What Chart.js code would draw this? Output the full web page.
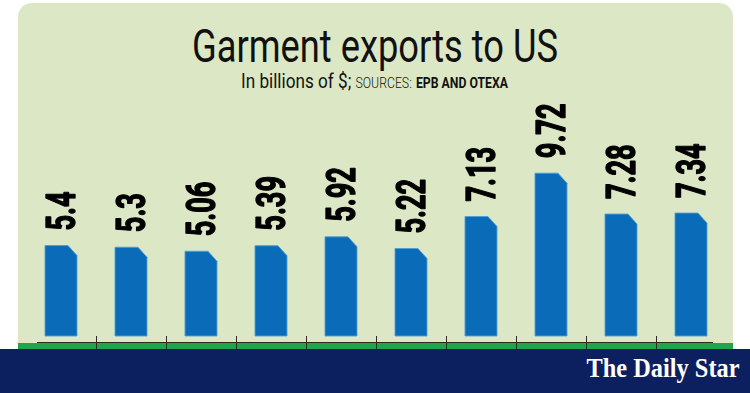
<!DOCTYPE html>
<html>
<head>
<meta charset="utf-8">
<script src="https://cdn.jsdelivr.net/npm/chart.js@4.4.1/dist/chart.umd.min.js"></script>
<style>
  html, body { margin: 0; padding: 0; background: #fff; }
  #wrap { position: relative; width: 750px; height: 393px; overflow: hidden; background: #fff; }
  #panel { position: absolute; left: 18px; top: 3px; width: 715px; height: 346px; background: #dce8c5; border-radius: 14px 14px 0 0; }
  #strip { position: absolute; left: 18px; top: 343px; width: 715px; height: 6px; background: #1fa64a; }
  #footer { position: absolute; left: 0; top: 349px; width: 750px; height: 44px; background: #0c1f5f; }
  #logo { position: absolute; right: 10px; top: 6px; color: #fff; font-family: "Liberation Serif", serif; font-weight: bold; font-size: 27px; line-height: 1; white-space: nowrap; transform-origin: right center; }
  .row { position: absolute; left: 0; width: 750px; text-align: center; line-height: 1; white-space: nowrap; }
  .row span.fit { display: inline-block; transform-origin: center center; }
  #title { top: 23px; font-family: Roboto, sans-serif; font-weight: 400; font-size: 46px; color: #111; }
  #sub { top: 71px; font-family: Roboto, sans-serif; font-weight: 400; font-size: 21px; color: #111; }
  #sub .src { font-size: 15px; font-weight: 300; }
  #sub .bold { font-size: 15px; font-weight: 700; }
  canvas { position: absolute; left: 0; top: 0; }
</style>
</head>
<body>
<div id="wrap">
  <div id="panel"></div>
  <div id="strip"></div>
  <div class="row" id="title"><span class="fit">Garment exports to US</span></div>
  <div class="row" id="sub"><span class="fit">In billions of $; <span class="src">SOURCES:</span> <span class="bold">EPB AND OTEXA</span></span></div>
  <canvas id="exportsChart" width="750" height="349"></canvas>
  <div id="footer"><span id="logo">The Daily Star</span></div>
</div>
<script>
// chart data (no category labels are printed in the picture)
const categories = ['1', '2', '3', '4', '5', '6', '7', '8', '9', '10'];
const exportValues = [5.4, 5.3, 5.06, 5.39, 5.92, 5.22, 7.13, 9.72, 7.28, 7.34];
const valueLabels = ['5.4', '5.3', '5.06', '5.39', '5.92', '5.22', '7.13', '9.72', '7.28', '7.34'];

const barColor = '#0a6cb9';
const barEdge = 'rgba(80, 155, 215, 0.9)';

// squeeze the html text to the widths used in the graphic
function fitWidth(el, target) {
  el.style.transform = 'none';
  const w = el.getBoundingClientRect().width;
  el.style.transform = 'scaleX(' + (target / w) + ')';
}

// bars with a cut top-right corner, drawn from the bar elements
const chamferBars = {
  id: 'chamferBars',
  beforeDatasetDraw() {
    return false;
  },
  afterDatasetsDraw(chart) {
    const ctx = chart.ctx;
    const meta = chart.getDatasetMeta(0);
    ctx.save();
    meta.data.forEach((bar) => {
      const left = bar.x - bar.width / 2;
      const right = bar.x + bar.width / 2;
      const cut = 9;
      ctx.beginPath();
      ctx.moveTo(left, bar.base);
      ctx.lineTo(left, bar.y);
      ctx.lineTo(right - cut, bar.y);
      ctx.lineTo(right, bar.y + cut + 1);
      ctx.lineTo(right, bar.base);
      ctx.closePath();
      ctx.fillStyle = barColor;
      ctx.fill();
      ctx.lineWidth = 1;
      ctx.strokeStyle = barEdge;
      ctx.stroke();
    });

    // rotated value labels, tall and condensed
    ctx.fillStyle = '#000';
    ctx.strokeStyle = '#000';
    ctx.lineWidth = 1.4;
    ctx.lineJoin = 'round';
    ctx.font = 'bold 40px Roboto, sans-serif';
    ctx.textAlign = 'left';
    ctx.textBaseline = 'alphabetic';
    meta.data.forEach((bar, i) => {
      ctx.save();
      ctx.translate(bar.x, bar.y - 15);
      ctx.rotate(-Math.PI / 2);
      ctx.scale(0.68, 1);
      ctx.fillText(valueLabels[i], 0, 14);
      ctx.strokeText(valueLabels[i], 0, 14);
      ctx.restore();
    });

    // base line with tick marks between categories
    const xs = chart.scales.x;
    const y0 = chart.scales.y.getPixelForValue(0);
    const n = categories.length;
    ctx.strokeStyle = '#2b2b1c';
    ctx.lineWidth = 1;
    ctx.beginPath();
    ctx.moveTo(xs.getPixelForValue(0) - 24, Math.round(y0 + 6) + 0.5);
    ctx.lineTo(xs.getPixelForValue(n - 1) + 22, Math.round(y0 + 6) + 0.5);
    for (let i = 0; i < n - 1; i++) {
      const tx = Math.round((xs.getPixelForValue(i) + xs.getPixelForValue(i + 1)) / 2) + 0.5;
      ctx.moveTo(tx, y0);
      ctx.lineTo(tx, y0 + 13);
    }
    ctx.stroke();
    ctx.restore();
  }
};

function drawChart() {
  const ctx = document.getElementById('exportsChart').getContext('2d');
  new Chart(ctx, {
    type: 'bar',
    data: {
      labels: categories,
      datasets: [{
        label: 'Garment exports to US',
        data: exportValues,
        backgroundColor: barColor,
        categoryPercentage: 1,
        barPercentage: 0.457
      }]
    },
    options: {
      responsive: false,
      animation: false,
      events: [],
      devicePixelRatio: 1,
      layout: { padding: { left: 26, right: 24, top: 1, bottom: 13 } },
      scales: {
        x: { display: false },
        y: { display: false, min: 0, max: 20 }
      },
      plugins: {
        legend: { display: false },
        tooltip: { enabled: false },
        title: { display: false }
      }
    },
    plugins: [chamferBars]
  });
}

document.fonts.ready.then(() => {
  fitWidth(document.querySelector('#title .fit'), 366);
  fitWidth(document.querySelector('#sub .fit'), 267);
  fitWidth(document.getElementById('logo'), 153);
  drawChart();
});
</script>
</body>
</html>
